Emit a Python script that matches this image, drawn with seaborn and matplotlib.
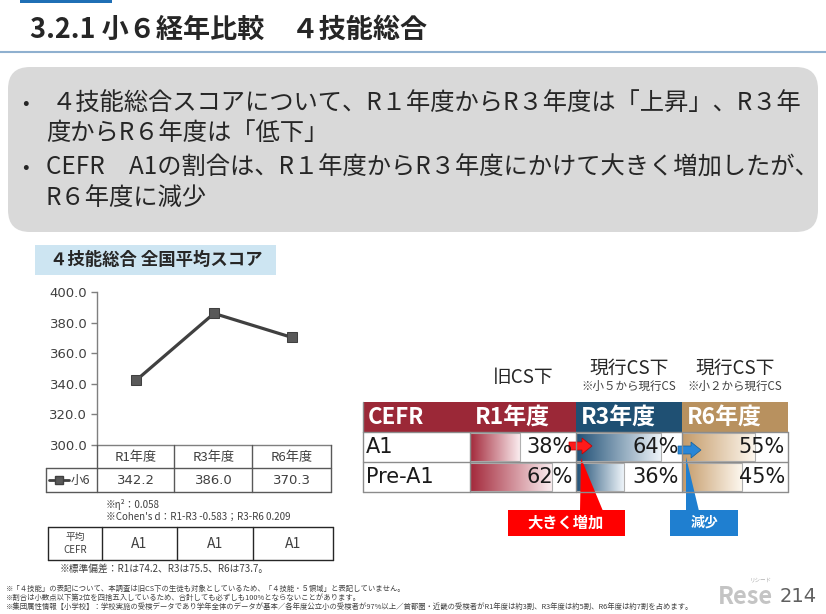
import matplotlib
matplotlib.use("Agg")
import matplotlib.pyplot as plt
import matplotlib.patches as mpatches
import matplotlib.transforms as mtransforms
import numpy as np
import pandas as pd
import seaborn as sns
from matplotlib.colors import LinearSegmentedColormap

W, H = 826, 614
JP = ["Noto Sans CJK JP", "DejaVu Sans"]

# --- data ---
YEARS = ["R1年度", "R3年度", "R6年度"]
SCORES = [342.2, 386.0, 370.3]
SERIES = "小6"
ETA2 = 0.058
COHEN_D = [-0.583, 0.209]
AVG_CEFR = ["A1", "A1", "A1"]
SD = [74.2, 75.5, 73.7]

CEFR_LEVELS = ["A1", "Pre-A1"]
PCT_R1 = [38, 62]
PCT_R3 = [64, 36]
PCT_R6 = [55, 45]
CS_LABELS = ["旧CS下", "現行CS下", "現行CS下"]
CS_NOTES = ["", "※小５から現行CS", "※小２から現行CS"]

BULLETS = [
    ("•", "４技能総合スコアについて、R１年度からR３年度は「上昇」、R３年"),
    ("", "度からR６年度は「低下」"),
    ("•", "CEFR　A1の割合は、R１年度からR３年度にかけて大きく増加したが、"),
    ("", "R６年度に減少"),
]
FOOTNOTES = [
    "※「４技能」の表記について、本調査は旧CS下の生徒も対象としているため、「４技能・５領域」と表記していません。",
    "※割合は小数点以下第2位を四捨五入しているため、合計しても必ずしも100%とならないことがあります。",
    "※集団属性情報【小学校】：学校実施の受検データであり学年全体のデータが基本／各年度公立小の受検者が97%以上／"
    "首都圏・近畿の受検者がR1年度は約3割、R3年度は約5割、R6年度は約7割を占めます。",
]


def px_axes(fig, x0, y0, x1, y1, z=1):
    ax = fig.add_axes([x0 / W, 1 - y1 / H, (x1 - x0) / W, (y1 - y0) / H], zorder=z)
    ax.set_facecolor("none")
    return ax


def px_layer(fig, z):
    ax = fig.add_axes([0, 0, 1, 1], zorder=z)
    ax.set_xlim(0, W)
    ax.set_ylim(H, 0)
    ax.axis("off")
    ax.set_facecolor("none")
    return ax


def main():
    sns.set_theme(style="white")
    plt.rcParams["font.family"] = JP
    plt.rcParams["axes.unicode_minus"] = False

    fig = plt.figure(figsize=(W / 100, H / 100), dpi=100)
    bg = px_layer(fig, 0)

    # header
    bg.add_patch(mpatches.Rectangle((20, 0), 92, 3, color="#1f6fb5", lw=0))
    bg.text(30, 30, "3.2.1 小６経年比較　４技能総合", fontsize=19.5, fontweight="bold",
            va="center", color="#262626")
    bg.plot([0, W], [52, 52], color="#8fb0cf", lw=1.5)

    # summary box
    bg.add_patch(mpatches.FancyBboxPatch((8, 67), 810, 165,
                                         boxstyle="round,pad=0,rounding_size=22",
                                         fc="#d9d9d9", ec="none"))
    for (mark, line), y in zip(BULLETS, [103, 133, 168, 198]):
        if mark:
            bg.text(22, y, mark, fontsize=14, va="center", color="#262626")
            x = 52 if line.startswith("４") else 46
        else:
            x = 46
        bg.text(x, y, line, fontsize=17.5, va="center", color="#262626")

    # ---- line chart ----
    bg.add_patch(mpatches.Rectangle((35, 245), 241, 30, color="#cde5f2", lw=0))
    bg.text(50, 260, "４技能総合 全国平均スコア", fontsize=12.5, fontweight="bold",
            va="center", color="#262626")

    ax = px_axes(fig, 97, 292, 331, 445, z=2)
    df = pd.DataFrame({"year": YEARS, "score": SCORES})
    sns.lineplot(data=df, x="year", y="score", ax=ax, color="#404040", lw=2.3,
                 marker="s", markersize=7.5, markerfacecolor="#595959",
                 markeredgecolor="#404040", sort=False)
    ax.set_xlim(-0.5, 2.5)
    ax.set_ylim(300, 400)
    ax.set_yticks(np.arange(300, 401, 20))
    ax.set_yticklabels([f"{v:.1f}" for v in np.arange(300, 401, 20)],
                       fontsize=9.5, color="#404040", family="DejaVu Sans")
    ax.set_xticks([])
    ax.set_xlabel("")
    ax.set_ylabel("")
    ax.tick_params(axis="y", left=True, length=4, width=1, color="#7f7f7f", pad=3)
    for s in ["top", "right"]:
        ax.spines[s].set_visible(False)
    for s in ["left", "bottom"]:
        ax.spines[s].set_color("#7f7f7f")
        ax.spines[s].set_linewidth(1)

    # data table under the chart
    fg = px_layer(fig, 5)
    tr = mtransforms.blended_transform_factory(ax.transData, fg.transData)
    lc = "#595959"
    for xb in [97, 174, 252, 331]:
        fg.plot([xb, xb], [445, 492], color=lc, lw=1)
    fg.plot([46, 331], [468, 468], color=lc, lw=1)
    fg.plot([46, 331], [492, 492], color=lc, lw=1)
    fg.plot([46, 46], [468, 492], color=lc, lw=1)
    for i, (yr, sc) in enumerate(zip(YEARS, SCORES)):
        fg.text(i, 457, yr, transform=tr, ha="center", va="center", fontsize=9.5, color="#404040")
        fg.text(i, 480, f"{sc:.1f}", transform=tr, ha="center", va="center", fontsize=9.5,
                color="#404040", family="DejaVu Sans")
    fg.plot([49, 69], [480, 480], color="#404040", lw=2)
    fg.plot([59], [480], marker="s", markersize=6, color="#595959", mec="#404040")
    fg.text(71, 480, SERIES, va="center", fontsize=9, color="#404040")

    fg.text(106, 504, f"※η²：{ETA2:.3f}", va="center", fontsize=7, color="#404040")
    fg.text(106, 517, f"※Cohen's d：R1-R3 {COHEN_D[0]:.3f}；R3-R6 {COHEN_D[1]:.3f}",
            va="center", fontsize=7, color="#404040")

    # average CEFR table
    cx = [48, 102, 177, 253, 333]
    for xb in cx:
        fg.plot([xb, xb], [527, 560], color="#262626", lw=1)
    for yb in [527, 560]:
        fg.plot([cx[0], cx[-1]], [yb, yb], color="#262626", lw=1)
    fg.text(75, 537, "平均", ha="center", va="center", fontsize=7, color="#404040")
    fg.text(75, 550, "CEFR", ha="center", va="center", fontsize=7, color="#404040")
    for i, lv in enumerate(AVG_CEFR):
        fg.text((cx[i + 1] + cx[i + 2]) / 2, 544, lv, ha="center", va="center",
                fontsize=10, color="#404040")
    fg.text(60, 569, f"※標準偏差：R1は{SD[0]}、R3は{SD[1]}、R6は{SD[2]}。",
            va="center", fontsize=7, color="#404040")

    # ---- CEFR share table ----
    cols = [363, 470, 576, 682, 788]
    rows = [402, 432, 462, 492]
    heads = ["#9b2837", "#1f5073", "#b8915f"]
    cmaps = [["#a3283a", "#fcf0f2"], ["#1f4f75", "#eef4f9"], ["#c49a68", "#fdf7ee"]]
    pcts = [PCT_R1, PCT_R3, PCT_R6]

    bg.add_patch(mpatches.Rectangle((cols[0], rows[0]), cols[1] - cols[0], 30, color=heads[0], lw=0))
    fg.text(cols[0] + 5, 417, "CEFR", fontsize=16, fontweight="bold", color="white", va="center")
    bg.add_patch(mpatches.Rectangle((cols[0], rows[1]), cols[-1] - cols[0], 60, color="white", lw=0))
    grad = np.linspace(0, 1, 256).reshape(1, -1)
    for j in range(3):
        x0, x1 = cols[j + 1], cols[j + 2]
        bg.add_patch(mpatches.Rectangle((x0, rows[0]), x1 - x0, 30, color=heads[j], lw=0))
        fg.text(x0 + 5, 417, YEARS[j], fontsize=16.5, fontweight="bold", color="white", va="center")
        fg.text((x0 + x1) / 2, 368 if CS_NOTES[j] else 378, CS_LABELS[j], ha="center",
                va="center", fontsize=13.5, color="#262626")
        if CS_NOTES[j]:
            fg.text((x0 + x1) / 2, 386, CS_NOTES[j], ha="center", va="center",
                    fontsize=8.3, color="#404040")

        bax = px_axes(fig, x0, rows[1], x1, rows[3], z=3)
        sns.barplot(x=pcts[j], y=CEFR_LEVELS, orient="h", ax=bax, color=cmaps[j][0], width=0.93)
        cmap = LinearSegmentedColormap.from_list(f"c{j}", cmaps[j])
        for p in list(bax.patches):
            bx, by, bw, bh = p.get_x(), p.get_y(), p.get_width(), p.get_height()
            im = bax.imshow(grad, cmap=cmap, extent=[bx, bx + bw, by + bh, by], aspect="auto",
                            zorder=1)
            im.set_clip_path(p)
            p.set_facecolor("none")
            p.set_edgecolor("#b0b0b0")
            p.set_linewidth(0.8)
            p.set_zorder(2)
        bax.set_xlim(0, 80)
        bax.set_ylim(1.5, -0.5)
        bax.axis("off")
        for v, yc in zip(pcts[j], [447, 477]):
            fg.text(x1 - 3, yc, f"{v}%", ha="right", va="center", fontsize=15,
                    color="#1a1a1a", family="DejaVu Sans")

    for lv, yc in zip(CEFR_LEVELS, [447, 477]):
        fg.text(366, yc, lv, va="center", fontsize=15, color="#1a1a1a", family="DejaVu Sans")
    gc = "#8c8c8c"
    for xb in cols:
        fg.plot([xb, xb], [rows[1], rows[3]], color=gc, lw=1)
    for yb in rows[1:]:
        fg.plot([cols[0], cols[-1]], [yb, yb], color=gc, lw=1)
    fg.plot([cols[0], cols[0]], [rows[0], rows[1]], color=gc, lw=1)

    # arrows and callouts
    fg.add_patch(mpatches.FancyArrow(569, 446, 13, 0, width=8, head_width=16, head_length=10,
                                     length_includes_head=False, fc="#ff1a1a", ec="#c00000", lw=0.5))
    fg.add_patch(mpatches.FancyArrow(678, 450, 13, 0, width=8, head_width=16, head_length=10,
                                     length_includes_head=False, fc="#2a86d6", ec="#1060a0", lw=0.5))
    fg.add_patch(mpatches.Polygon([(581, 458), (580, 511), (603, 511)], closed=True,
                                  fc="#ff0000", ec="none"))
    fg.add_patch(mpatches.Rectangle((508, 510), 117, 26, fc="#ff0000", ec="none"))
    fg.text(566, 523, "大きく増加", ha="center", va="center", fontsize=11,
            fontweight="bold", color="white")
    fg.add_patch(mpatches.Polygon([(686, 457), (686, 511), (699, 511)], closed=True,
                                  fc="#1f7fd0", ec="none"))
    fg.add_patch(mpatches.Rectangle((670, 510), 68, 26, fc="#1f7fd0", ec="none"))
    fg.text(704, 523, "減少", ha="center", va="center", fontsize=10,
            fontweight="bold", color="white")

    # footnotes and logo
    for note, y in zip(FOOTNOTES, [589, 598, 607]):
        bg.text(6, y, note, fontsize=5.3, va="center", color="#404040")
    bg.text(718, 597, "Rese", fontsize=17, fontweight="bold", color="#c4c4c4", va="center")
    bg.text(750, 580, "リシード", fontsize=4, color="#b0b0b0", va="center")
    bg.text(780, 597, "214", fontsize=14, color="#606060", va="center", family="DejaVu Sans")

    fig.savefig("out.png", dpi=100)
    plt.close(fig)


if __name__ == "__main__":
    main()
